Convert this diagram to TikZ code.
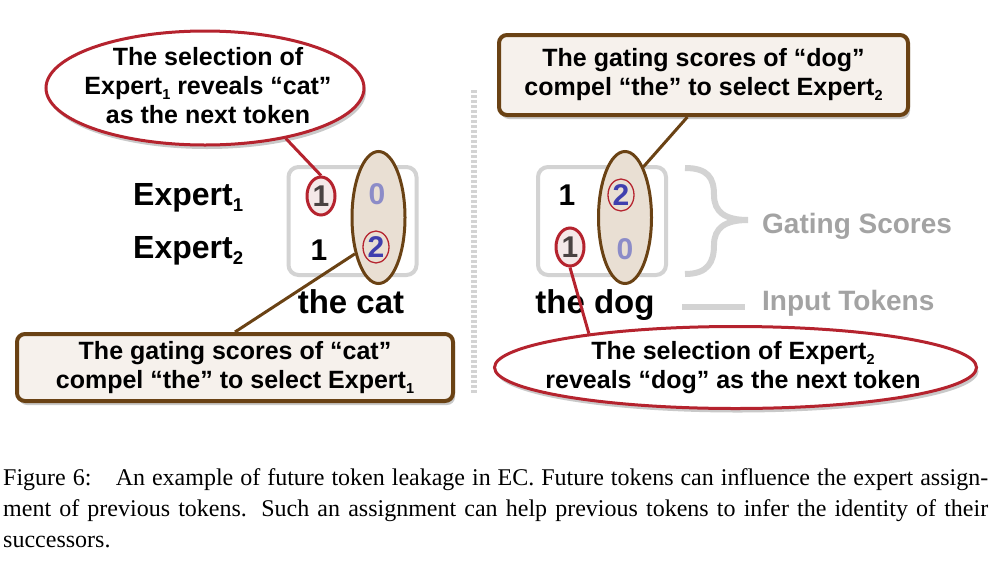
\documentclass[tikz,border=0pt]{standalone}
\usepackage{fontspec}
\setmainfont{Liberation Sans}
\newfontfamily\capfont{Liberation Serif}
\usetikzlibrary{shapes.geometric,shadows}
\definecolor{rot}{HTML}{B5232E}
\definecolor{braun}{HTML}{6A4214}
\definecolor{beige}{HTML}{E9DFD3}
\definecolor{creme}{HTML}{F6F1EC}
\definecolor{rosa}{HTML}{F4E8E8}
\definecolor{blau}{HTML}{3F3FAE}
\definecolor{hblau}{HTML}{8C8CC8}
\definecolor{dgrau}{HTML}{4A4242}
\definecolor{hgrau}{HTML}{D3D3D3}
\definecolor{tgrau}{HTML}{A3A3A3}
\newcommand{\idx}[1]{\raisebox{-.2em}{\scalebox{.58}{#1}}}
\tikzset{
  wort/.style={font=\bfseries\fontsize{32}{36}\selectfont,inner sep=0},
  token/.style={font=\bfseries\fontsize{33}{36}\selectfont,inner sep=0},
  zahl/.style={font=\bfseries\fontsize{30}{36}\selectfont,inner sep=0},
  wahl/.style={ellipse,draw=rot,line width=3pt,fill=rosa,text=dgrau,
    minimum width=28pt,minimum height=38pt},
  ring/.style={ellipse,draw=rot,line width=1.3pt,text=blau,
    minimum width=26pt,minimum height=32pt},
  oval/.style={ellipse,draw=braun,line width=3pt,fill=beige,
    minimum width=53pt,minimum height=132pt},
  kasten/.style={rectangle,rounded corners=10pt,draw=hgrau,line width=4pt,fill=white,
    minimum width=128pt,minimum height=108pt},
  schatten/.style={drop shadow={shadow xshift=2pt,shadow yshift=-4pt,opacity=.3,fill=black!70}},
  blase/.style={ellipse,draw=rot,line width=3pt,fill=white,schatten},
  tafel/.style={rectangle,rounded corners=8pt,draw=braun,line width=4pt,fill=creme,schatten,
    font=\bfseries\fontsize{25}{29}\selectfont,align=center},
  txt/.style={font=\bfseries\fontsize{25}{29}\selectfont,align=center,inner sep=0},
  grautxt/.style={font=\bfseries\fontsize{28}{32}\selectfont,text=tgrau,inner sep=0},
  rzeig/.style={rot,line width=3pt},
  bzeig/.style={braun,line width=3pt},
  gstrich/.style={hgrau,line width=6pt},
  trenner/.style={hgrau,line width=6pt,dash pattern=on 3pt off 2pt},
  capt/.style={text width=985pt,align=justify,inner sep=0,
    font=\capfont\fontsize{24}{31}\selectfont},
}
\begin{document}
\begin{tikzpicture}[x=1pt,y=-1pt]
  \useasboundingbox (0,0) rectangle (990,571);
  % linke Seite: the cat
  \node[kasten] (boxL) at (352.5,221) {};
  \node[oval] (catE) at (378.5,217.5) {};
  \node[wort,anchor=base west] (ex1) at (133,205) {Expert\idx{1}};
  \node[wort,anchor=base west] (ex2) at (133,258) {Expert\idx{2}};
  \node[zahl,wahl] (wahlL) at (321,196) {1};
  \node[zahl,text=hblau] (nullL) at (377,194) {0};
  \node[zahl] (einsL) at (319,250) {1};
  \node[zahl,ring] (zweiL) at (376,247) {2};
  \node[token,anchor=base] (cat) at (351,313) {the cat};
  \node[blase,minimum width=318pt,minimum height=114pt] (selL) at (205,88) {};
  \node[txt] (selLt) at (208,86) {The selection of\\Expert\idx{1} reveals “cat”\\as the next token};
  \node[tafel,minimum width=436pt,minimum height=67pt] (gateL) at (235,367.5)
    {The gating scores of “cat”\\compel “the” to select Expert\idx{1}};
  \draw[rzeig] (selL.-32) -- (wahlL.north);
  \draw[bzeig] (gateL.north) -- (catE.-123);
  % Trennlinie
  \draw[trenner] (474,90) -- (474,393);
  % rechte Seite: the dog
  \node[kasten] (boxR) at (602,221) {};
  \node[oval] (dogE) at (625,217.5) {};
  \node[zahl] (einsR) at (567,195) {1};
  \node[zahl,ring] (zweiR) at (621,195) {2};
  \node[zahl,wahl] (wahlR) at (570,247) {1};
  \node[zahl,text=hblau] (nullR) at (625,249) {0};
  \node[token,anchor=base] (dog) at (595,313) {the dog};
  \draw[hgrau,line width=6pt] (685,168) .. controls (708,168) and (714,178) .. (714,195)
    .. controls (714,212) and (725,220) .. (748,220)
    .. controls (725,220) and (714,228) .. (714,245)
    .. controls (714,262) and (708,274) .. (685,274);
  \node[grautxt,anchor=base west] (gs) at (762,233) {Gating Scores};
  \node[grautxt,anchor=base west] (inp) at (762,310) {Input Tokens};
  \draw[gstrich] (682,307) -- (745,307);
  \node[tafel,minimum width=409pt,minimum height=80pt] (gateR) at (703.5,75)
    {The gating scores of “dog”\\compel “the” to select Expert\idx{2}};
  \node[blase,minimum width=482pt,minimum height=82pt] (selR) at (735.5,367.5) {};
  \node[txt] (selRt) at (733,368) {The selection of Expert\idx{2}\\reveals “dog” as the next token};
  \draw[bzeig] (gateR.-111) -- (dogE.70);
  \draw[rzeig] (wahlR.south) -- (selR.167);
  % Bildunterschrift
  \node[capt,anchor=base west] (cap) at (3,485) {Figure 6:\hspace{0.6em} An example of future token leakage in EC. Future tokens can influence the expert assign-\linebreak ment of previous tokens.  Such an assignment can help previous tokens to infer the identity of their\linebreak successors.};
\end{tikzpicture}
\end{document}
